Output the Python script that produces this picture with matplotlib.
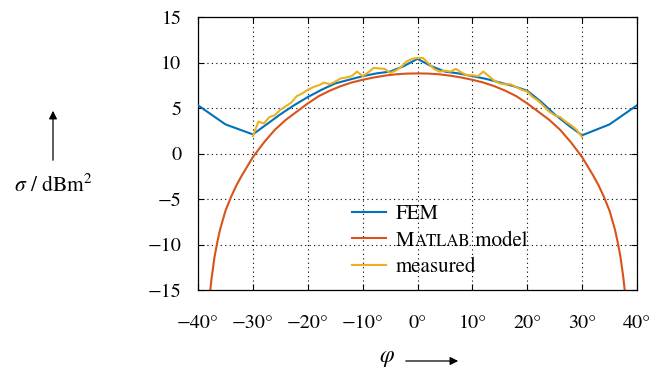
import matplotlib
matplotlib.use("Agg")
import matplotlib.pyplot as plt
from matplotlib.patches import FancyArrowPatch
from matplotlib.transforms import IdentityTransform

plt.rcParams["font.family"] = ["STIXGeneral", "DejaVu Serif"]
plt.rcParams["mathtext.fontset"] = "stix"

# ---------------- data ----------------
fem_phi = [-40, -35, -30, -27.5, -25, -22.5, -20, -17.5, -15, -12.5, -10, -7.5, -5, -2.5,
           0, 2.5, 5, 7.5, 10, 12.5, 15, 17.5, 20, 22.5, 25, 27.5, 30, 35, 40]
fem_sigma = [5.3, 3.2, 2.1, 3.2, 4.3, 5.3, 6.2, 7.0, 7.7, 8.1, 8.5, 8.8, 9.0, 9.6,
             10.4, 9.6, 9.0, 8.8, 8.5, 8.2, 7.8, 7.4, 6.9, 5.7, 4.3, 3.1, 2.0, 3.2, 5.3]

model_phi = [-39, -38, -37.5, -37, -36.5, -36, -35, -34, -33, -32, -30, -28, -26, -24, -22,
             -20, -18, -16, -14, -12, -10, -8, -6, -4, -2, 0, 2, 4, 6, 8, 10, 12, 14, 16,
             18, 20, 22, 24, 26, 28, 30, 32, 33, 34, 35, 36, 36.5, 37, 37.5, 38, 39]
model_sigma = [-21.0, -16.3, -13.6, -11.4, -9.8, -8.4, -6.3, -4.8, -3.5, -2.4, -0.4, 1.2,
               2.6, 3.7, 4.6, 5.5, 6.3, 6.9, 7.4, 7.8, 8.1, 8.35, 8.55, 8.7, 8.78, 8.8,
               8.78, 8.7, 8.55, 8.35, 8.1, 7.8, 7.4, 6.9, 6.3, 5.5, 4.6, 3.7, 2.6, 1.2,
               -0.4, -2.4, -3.5, -4.8, -6.3, -8.4, -9.8, -11.4, -13.6, -16.3, -21.0]

meas_phi = list(range(-30, 31))
meas_sigma = [1.9, 3.5, 3.3, 4.0, 4.2, 4.8, 5.2, 5.6, 6.3, 6.6, 7.0, 7.3, 7.5, 7.8, 7.6,
              7.9, 8.25, 8.35, 8.5, 9.0, 8.5, 8.9, 9.4, 9.35, 9.3, 8.85, 9.1, 9.5, 10.1,
              10.4, 10.5, 10.5, 9.9, 9.3, 9.0, 9.1, 9.0, 9.3, 8.9, 8.6, 8.6, 8.5, 9.0,
              8.5, 8.0, 7.7, 7.6, 7.6, 7.3, 7.0, 6.8, 6.2, 5.8, 5.2, 4.6, 4.2, 4.0, 3.5,
              3.1, 2.6, 1.8]

x_ticks = [-40, -30, -20, -10, 0, 10, 20, 30, 40]
x_labels = ["\u221240\u00b0", "\u221230\u00b0", "\u221220\u00b0", "\u221210\u00b0", "0\u00b0",
            "10\u00b0", "20\u00b0", "30\u00b0", "40\u00b0"]
y_ticks = [-15, -10, -5, 0, 5, 10, 15]
y_labels = ["\u221215", "\u221210", "\u22125", "0", "5", "10", "15"]

# ---------------- figure ----------------
fig = plt.figure(figsize=(6.58, 3.71), dpi=100)
ax = fig.add_axes([198 / 658, 1 - 290 / 371, 439 / 658, 273 / 371])

ax.plot(fem_phi, fem_sigma, color="#0072BD", lw=1.5, label="FEM", zorder=3)
ax.plot(model_phi, model_sigma, color="#D95319", lw=1.5, label="M", zorder=2)
ax.plot(meas_phi, meas_sigma, color="#EDB120", lw=1.5, label="measured", zorder=4)

ax.set_xlim(-40, 40)
ax.set_ylim(-15, 15)
ax.set_xticks(x_ticks)
ax.set_xticklabels(x_labels)
ax.set_yticks(y_ticks)
ax.set_yticklabels(y_labels)
ax.tick_params(direction="in", length=4, width=0.8, labelsize=14.5, top=True, right=True)
ax.tick_params(axis="x", pad=18)
ax.tick_params(axis="y", pad=12)
ax.grid(True, color="black", linestyle=(0, (1, 3)), linewidth=0.8)
for s in ax.spines.values():
    s.set_linewidth(0.9)

leg = ax.legend(loc="upper left", bbox_to_anchor=(337 / 658, 1 - 190 / 371),
                bbox_transform=fig.transFigure, frameon=False, fontsize=15,
                handlelength=1.65, handletextpad=0.45, labelspacing=0.32,
                borderpad=0.2)

# small caps for "MATLAB": place pieces after the legend is laid out
fig.canvas.draw()
rend = fig.canvas.get_renderer()
bb = leg.get_texts()[1].get_window_extent(rend)
small = fig.text(bb.x1 + 0.5, bb.y0 + 1, "ATLAB", fontsize=12, transform=IdentityTransform(),
                 va="bottom", ha="left")
bb2 = small.get_window_extent(rend)
fig.text(bb2.x1, bb.y0, " model", fontsize=15, transform=IdentityTransform(),
         va="bottom", ha="left")

# axis labels with arrows
fig.text(53 / 658, 1 - 186 / 371, r"$\sigma$ / dBm$^2$", fontsize=15.5,
         ha="center", va="center")
fig.add_artist(FancyArrowPatch(
    (53 / 658, 1 - 163 / 371), (53 / 658, 1 - 108 / 371),
    transform=fig.transFigure, arrowstyle="-|>", mutation_scale=12,
    color="black", lw=0.9))
fig.text(387 / 658, 1 - 358 / 371, r"$\varphi$", fontsize=17,
         ha="center", va="center")
fig.add_artist(FancyArrowPatch(
    (403 / 658, 1 - 361 / 371), (461 / 658, 1 - 361 / 371),
    transform=fig.transFigure, arrowstyle="-|>", mutation_scale=12,
    color="black", lw=0.9))

fig.savefig("out.png", dpi=100)
